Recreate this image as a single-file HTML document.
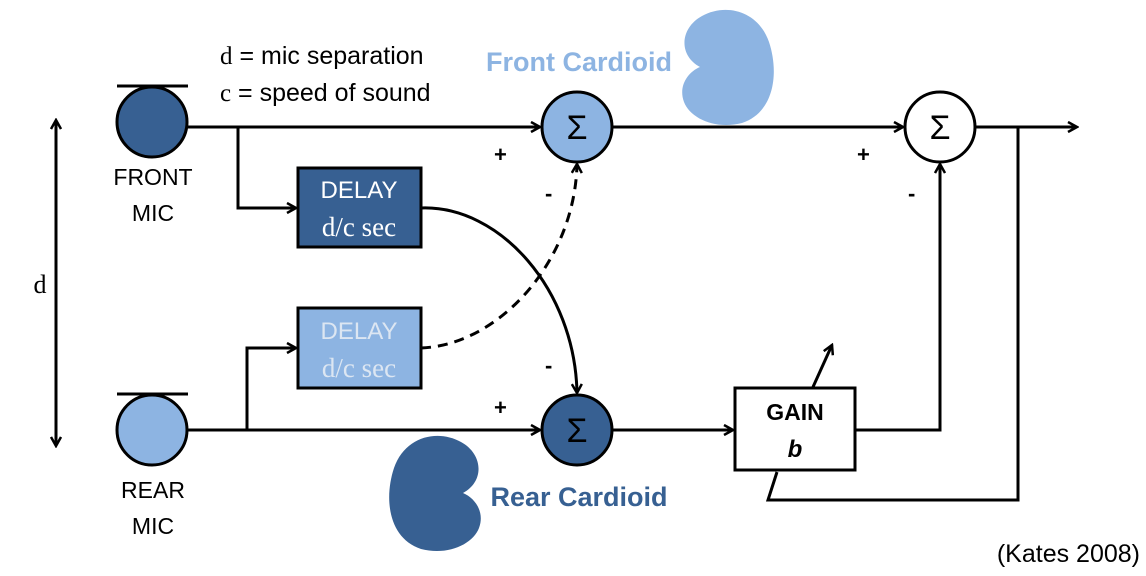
<!DOCTYPE html>
<html><head><meta charset="utf-8"><style>
body{margin:0;background:#fff}
svg{display:block}
text{font-family:"Liberation Sans",sans-serif}
.s{font-family:"Liberation Serif",serif}
</style></head><body>
<svg width="1146" height="576" viewBox="0 0 1146 576" xmlns="http://www.w3.org/2000/svg">
<defs>
<marker id="a" markerWidth="12" markerHeight="12" refX="10" refY="6" orient="auto-start-reverse" markerUnits="userSpaceOnUse">
<path d="M1,1 L10,6 L1,11" fill="none" stroke="#000" stroke-width="2.5"/>
</marker>
</defs>
<g stroke="#000" stroke-width="3" fill="none">
<line x1="56" y1="120" x2="56" y2="446" marker-start="url(#a)" marker-end="url(#a)"/>
<line x1="117" y1="86" x2="188" y2="86"/>
<line x1="187" y1="127" x2="540" y2="127" marker-end="url(#a)"/>
<polyline points="238,127 238,208 296,208" marker-end="url(#a)"/>
<line x1="117" y1="394" x2="188" y2="394"/>
<line x1="187" y1="430" x2="540" y2="430" marker-end="url(#a)"/>
<polyline points="247,430 247,348 296,348" marker-end="url(#a)"/>
<path d="M421,208 C500,205 575,290 577,393" marker-end="url(#a)"/>
<path d="M421,348 C500,345 575,260 577,164" stroke-dasharray="10,7" marker-end="url(#a)"/>
<line x1="612" y1="127" x2="903" y2="127" marker-end="url(#a)"/>
<line x1="975" y1="127" x2="1077" y2="127" marker-end="url(#a)"/>
<polyline points="1018,127 1018,500 768,500 777,472"/>
<line x1="612" y1="430" x2="733" y2="430" marker-end="url(#a)"/>
<polyline points="855,430 940,430 940,164" marker-end="url(#a)"/>
<line x1="813" y1="387" x2="832" y2="345" marker-end="url(#a)"/>
</g>
<circle cx="152" cy="122" r="35" fill="#376092" stroke="#000" stroke-width="3"/>
<circle cx="152" cy="430" r="35" fill="#8db4e2" stroke="#000" stroke-width="3"/>
<rect x="298" y="168" width="123" height="79" fill="#376092" stroke="#000" stroke-width="3"/>
<rect x="298" y="308" width="123" height="80" fill="#8db4e2" stroke="#000" stroke-width="3"/>
<circle cx="577" cy="127" r="35" fill="#8db4e2" stroke="#000" stroke-width="3"/>
<circle cx="577" cy="430" r="35" fill="#376092" stroke="#000" stroke-width="3"/>
<circle cx="940" cy="127" r="35" fill="#fff" stroke="#000" stroke-width="3"/>
<rect x="735" y="388" width="120" height="82" fill="#fff" stroke="#000" stroke-width="3"/>
<path d="M700,67 C678,55 680,28 702,16 C725,3 758,10 769,42 C779,72 775,112 742,123 C715,130 690,118 684,102 C678,86 688,72 700,67 Z" fill="#8db4e2"/>
<path transform="translate(1163,426)" d="M-700,67 C-678,55 -680,28 -702,16 C-725,3 -758,10 -769,42 C-779,72 -775,112 -742,123 C-715,130 -690,118 -684,102 C-678,86 -688,72 -700,67 Z" fill="#376092"/>
<g font-size="25" fill="#000">
<text x="220" y="64"><tspan class="s">d</tspan> = mic separation</text>
<text x="220" y="101"><tspan class="s">c</tspan> = speed of sound</text>
<text x="153" y="185" text-anchor="middle" font-size="23">FRONT</text>
<text x="153" y="221" text-anchor="middle" font-size="23">MIC</text>
<text x="153" y="498" text-anchor="middle" font-size="23">REAR</text>
<text x="153" y="534" text-anchor="middle" font-size="23">MIC</text>
<text x="40" y="293" text-anchor="middle" class="s" font-size="26">d</text>
</g>
<text x="359" y="198" text-anchor="middle" font-size="24" fill="#fff">DELAY</text>
<text x="359" y="236" text-anchor="middle" font-size="27" fill="#fff" class="s">d/c sec</text>
<text x="359" y="339" text-anchor="middle" font-size="24" fill="#dce6f2">DELAY</text>
<text x="359" y="377" text-anchor="middle" font-size="27" fill="#dce6f2" class="s">d/c sec</text>
<text x="577" y="139" text-anchor="middle" font-size="34">Σ</text>
<text x="577" y="442" text-anchor="middle" font-size="34">Σ</text>
<text x="940" y="139" text-anchor="middle" font-size="34">Σ</text>
<text x="795" y="420" text-anchor="middle" font-size="23" font-weight="bold">GAIN</text>
<text x="795" y="457" text-anchor="middle" font-size="24" font-weight="bold" font-style="italic">b</text>
<text x="579" y="71" text-anchor="middle" font-size="27" font-weight="bold" fill="#8db4e2">Front Cardioid</text>
<text x="579" y="506" text-anchor="middle" font-size="27" font-weight="bold" fill="#376092">Rear Cardioid</text>
<g font-size="22" font-weight="bold">
<text x="494" y="162">+</text>
<text x="545" y="201">-</text>
<text x="494" y="415">+</text>
<text x="545" y="373">-</text>
<text x="857" y="162">+</text>
<text x="908" y="201">-</text>
</g>
<text x="1140" y="562" text-anchor="end" font-size="25">(Kates 2008)</text>
</svg>
</body></html>
